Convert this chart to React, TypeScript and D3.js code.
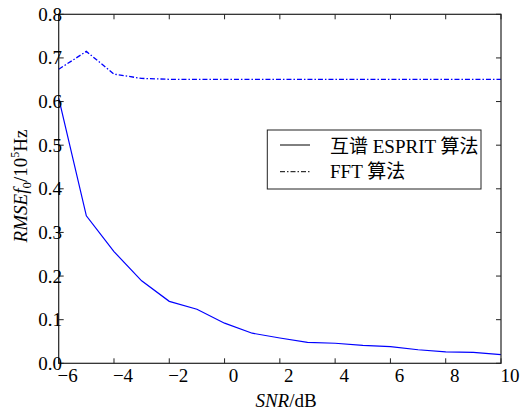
import React from "react"
import * as d3 from "d3"

// SNR points (dB)
const snr = [-6, -5, -4, -3, -2, -1, 0, 1, 2, 3, 4, 5, 6, 7, 8, 9, 10]
// 互谱 ESPRIT
const espritVals = [0.608, 0.338, 0.256, 0.189, 0.142, 0.124, 0.092, 0.069, 0.058, 0.048, 0.046, 0.041, 0.038, 0.031, 0.026, 0.025, 0.02]
// FFT
const fftVals = [0.674, 0.715, 0.663, 0.653, 0.651, 0.651, 0.651, 0.651, 0.651, 0.651, 0.651, 0.651, 0.651, 0.651, 0.651, 0.651, 0.651]

const xTicks = [-6, -4, -2, 0, 2, 4, 6, 8, 10]
const yTicks = [0, 0.1, 0.2, 0.3, 0.4, 0.5, 0.6, 0.7, 0.8]
const legendNames = ["互谱 ESPRIT 算法", "FFT 算法"]

const W = 521
const H = 411
const font = "'Liberation Serif', 'Times New Roman', 'Noto Sans CJK SC', serif"

export default function App() {
  const x = d3.scaleLinear().domain([-6, 10]).range([58.7, 501])
  const y = d3.scaleLinear().domain([0, 0.8]).range([363.3, 14.3])

  const line = d3.line<number>()
    .x((d, i) => x(snr[i]))
    .y(d => y(d))

  const [x0, x1] = x.range()
  const [y0, y1] = y.range()
  const tl = 5

  return (
    <svg width={W} height={H} style={{ position: "absolute", left: 0, top: 0, background: "#fff" }}
      fontFamily={font}>
      <path d={line(espritVals) || ""} fill="none" stroke="#0000ff" strokeWidth={1.2} />
      <path d={line(fftVals) || ""} fill="none" stroke="#0000ff" strokeWidth={1.3} strokeDasharray="5,2,1.5,2" />

      {/* box */}
      <rect x={x0} y={y1} width={x1 - x0} height={y0 - y1} fill="none" stroke="#222" strokeWidth={1.2} />

      {xTicks.map(t => (
        <g key={"x" + t}>
          <line x1={x(t)} x2={x(t)} y1={y0} y2={y0 - tl} stroke="#222" />
          <line x1={x(t)} x2={x(t)} y1={y1} y2={y1 + tl} stroke="#222" />
          <text x={x(t) + 9} y={382} fontSize={19} textAnchor="middle">
            {t < 0 ? "\u2212" + Math.abs(t) : String(t)}
          </text>
        </g>
      ))}
      {yTicks.map(t => (
        <g key={"y" + t}>
          <line x1={x0} x2={x0 + tl} y1={y(t)} y2={y(t)} stroke="#222" />
          <line x1={x1} x2={x1 - tl} y1={y(t)} y2={y(t)} stroke="#222" />
          <text x={62} y={y(t) + 6.5} fontSize={19} textAnchor="end">{t.toFixed(1)}</text>
        </g>
      ))}

      <text x={286} y={407} fontSize={19} textAnchor="middle">
        <tspan fontStyle="italic">SNR</tspan>/dB
      </text>

      <text transform="translate(27,186) rotate(-90)" fontSize={19} textAnchor="middle">
        <tspan fontStyle="italic">RMSE</tspan>
        <tspan fontStyle="italic">f</tspan>
        <tspan fontSize={13} dy={4}>0</tspan>
        <tspan dy={-4}>/10</tspan>
        <tspan fontSize={12} dy={-8}>5</tspan>
        <tspan dy={8}>Hz</tspan>
      </text>

      {/* legend */}
      <rect x={267.3} y={130} width={213.7} height={59} fill="#fff" stroke="#222" strokeWidth={1} />
      {legendNames.map((name, i) => (
        <g key={name}>
          <line x1={280} x2={310} y1={145 + i * 26.7} y2={145 + i * 26.7} stroke="#000" strokeWidth={1}
            strokeDasharray={i === 1 ? "5,2,1.5,2" : undefined} />
          <text x={330} y={153 + i * 25} fontSize={19}>{name}</text>
        </g>
      ))}
    </svg>
  )
}
